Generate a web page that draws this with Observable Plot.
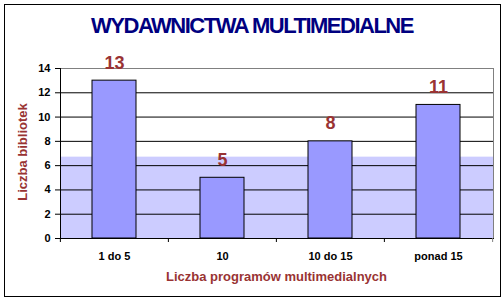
<!DOCTYPE html>
<html>
<head>
<meta charset="utf-8">
<script src="https://cdn.jsdelivr.net/npm/d3@7"></script>
<script src="https://cdn.jsdelivr.net/npm/@observablehq/plot@0.6"></script>
<style>
  html, body { margin: 0; padding: 0; background: white; }
  #wrap { position: relative; width: 504px; height: 301px; overflow: hidden; font-family: "Liberation Sans", Arial, sans-serif; }
  #wrap svg { position: absolute; left: 0; top: 0; }
  .border { position: absolute; left: 4px; top: 4px; width: 497px; height: 293px; box-sizing: border-box; border: 1px solid black; pointer-events: none; }
  .title { position: absolute; left: 0; width: 504px; top: 14px; text-align: center; font-weight: bold; font-size: 22px; letter-spacing: -1.5px; color: #000080; line-height: 24px; }
  .xtitle { position: absolute; left: 60px; width: 433px; top: 269px; text-align: center; font-weight: bold; font-size: 13px; color: #993333; line-height: 15px; }
  .ytitle { position: absolute; left: 22px; top: 152px; transform: translate(-50%, -50%) rotate(-90deg); white-space: nowrap; font-weight: bold; font-size: 13px; color: #993333; line-height: 15px; }
</style>
</head>
<body>
<div id="wrap"></div>
<script>
const titleText = "WYDAWNICTWA MULTIMEDIALNE";
const xTitle = "Liczba programów multimedialnych";
const yTitle = "Liczba bibliotek";
const categories = ["1 do 5", "10", "10 do 15", "ponad 15"];
const values = [13, 5, 8, 11];
const yTicks = [0, 2, 4, 6, 8, 10, 12, 14];
const gridTicks = [2, 4, 6, 8, 10, 12];
const bandTop = [6.7];

const data = categories.map((c, i) => ({cat: c, value: values[i]}));

const W = 504, H = 301, ML = 60, MR = 11, MT = 68, MB = 63;
const step = (W - ML - MR) / categories.length;

const chart = Plot.plot({
  width: W, height: H,
  marginLeft: ML, marginRight: MR, marginTop: MT, marginBottom: MB,
  style: {fontFamily: "'Liberation Sans', Arial, sans-serif", background: "white", color: "black"},
  x: {domain: categories, paddingInner: 0.59, paddingOuter: 0.295},
  y: {domain: [0, 14]},
  marks: [
    Plot.rectY(bandTop, {y1: 0, y2: d => d, fill: "#ccccff"}),
    Plot.ruleY(gridTicks, {stroke: "black"}),
    Plot.ruleY([14], {stroke: "#808080"}),
    Plot.frame({anchor: "right", stroke: "#808080"}),
    Plot.barY(data, {x: "cat", y: "value", fill: "#9999ff", stroke: "black", strokeWidth: 1}),
    Plot.frame({anchor: "left", stroke: "black"}),
    Plot.frame({anchor: "bottom", stroke: "black"}),
    Plot.ruleX(categories, {x: d => d, dx: -step / 2, y1: 0, y2: -0.33, stroke: "black"}),
    Plot.ruleX([categories[categories.length - 1]], {x: d => d, dx: step / 2, y1: 0, y2: -0.33, stroke: "#808080"}),
    Plot.axisY({ticks: yTicks, tickSize: 5, tickPadding: 5, fontSize: 11, fontWeight: "bold", label: null}),
    Plot.axisX({tickSize: 0, tickPadding: 14, fontSize: 11, fontWeight: "bold", label: null}),
    Plot.text(data, {x: "cat", y: "value", text: d => String(d.value), dy: -12, lineAnchor: "bottom", fill: "#993333", fontSize: 18, fontWeight: "bold"})
  ]
});

const wrap = document.getElementById("wrap");
wrap.appendChild(chart);
const t = document.createElement("div"); t.className = "title"; t.textContent = titleText; wrap.appendChild(t);
const xt = document.createElement("div"); xt.className = "xtitle"; xt.textContent = xTitle; wrap.appendChild(xt);
const yt = document.createElement("div"); yt.className = "ytitle"; yt.textContent = yTitle; wrap.appendChild(yt);
const b = document.createElement("div"); b.className = "border"; wrap.appendChild(b);
</script>
</body>
</html>
